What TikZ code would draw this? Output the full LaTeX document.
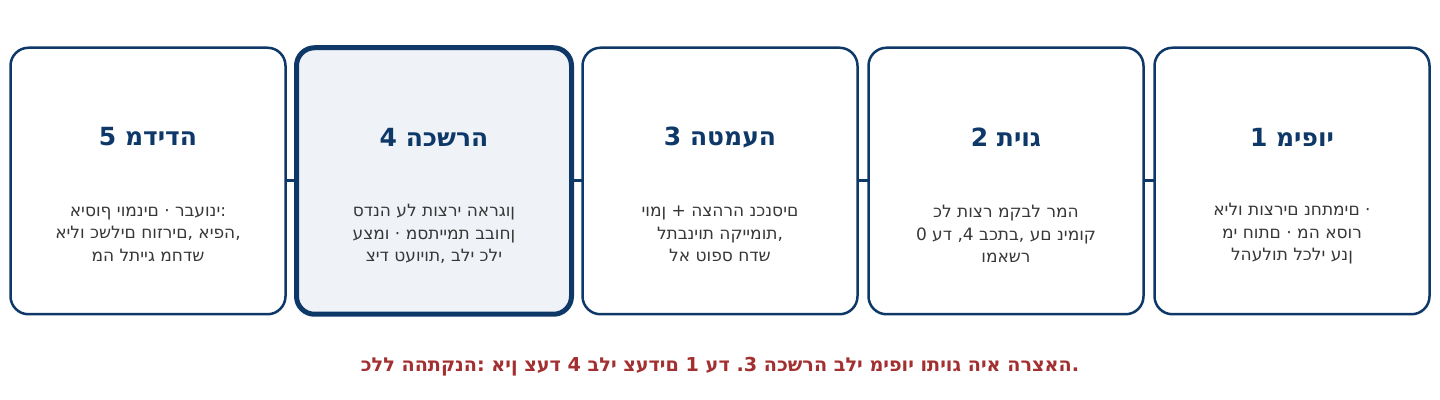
\documentclass[tikz,border=0pt]{standalone}
\usepackage{fontspec}
\setmainfont{DejaVu Sans}[Script=Hebrew]
\usepackage{tikz}
\usetikzlibrary{positioning}
\definecolor{mynavy}{RGB}{14,56,104}
\definecolor{mypale}{RGB}{239,243,248}
\definecolor{mygrey}{RGB}{55,55,55}
\definecolor{myred}{RGB}{163,48,48}
\frenchspacing
% letters one by one, left to right, as the picture sets them
\XeTeXinterchartokenstate=1
\newXeTeXintercharclass\hebcls
\makeatletter
\count@="05D0
\loop\ifnum\count@<"05EB
  \XeTeXcharclass\count@=\hebcls
  \advance\count@ by 1
\repeat
\makeatother
\XeTeXinterchartoks\hebcls\hebcls={\kern0pt\relax}
\XeTeXinterchartoks\hebcls 0={\kern0pt\relax}
\XeTeXinterchartoks 0\hebcls={\kern0pt\relax}
\tikzset{
  stagepic/.style={
    x=0.5pt,y=-0.5pt
    ,node distance=5.5pt
    ,inner sep=0pt
    ,outer sep=0pt
  }
  ,stagebox/.style={rounded corners=9pt,draw=mynavy,line width=1.25pt,fill=white
    ,minimum width=137.5pt,minimum height=133.25pt}
  ,stagecur/.style={stagebox,line width=2.5pt,fill=mypale}
  ,stagetitle/.style={font=\bfseries\fontsize{12.5}{15}\selectfont,text=mynavy}
  ,stagetext/.style={font=\fontsize{8.5}{11.25}\selectfont,text=mygrey,align=center}
  ,link/.style={draw=mynavy,line width=1.5pt}
  ,rulenote/.style={font=\bfseries\fontsize{9.6}{11}\selectfont,text=myred}
}

\begin{document}
\begin{tikzpicture}[stagepic]
  \useasboundingbox (0,0) rectangle (1440,400);
  % stages, right to left
  \node[stagebox] (s1) at (1292,181) {};
  \node[stagebox,left=of s1] (s2) {};
  \node[stagebox,left=of s2] (s3) {};
  \node[stagecur,left=of s3] (s4) {};
  \node[stagebox,left=of s4] (s5) {};
  \draw[link] (s1.west) -- (s2.east);
  \draw[link] (s2.west) -- (s3.east);
  \draw[link] (s3.west) -- (s4.east);
  \draw[link] (s4.west) -- (s5.east);
  % titles
  \node[stagetitle] (s1t) at ([yshift=22pt]s1.center) {1 מיפוי};
  \node[stagetitle] (s2t) at ([yshift=22pt]s2.center) {2 תיוג};
  \node[stagetitle] (s3t) at ([yshift=22pt]s3.center) {3 הטמעה};
  \node[stagetitle] (s4t) at ([yshift=22pt]s4.center) {4 הכשרה};
  \node[stagetitle] (s5t) at ([yshift=22pt]s5.center) {5 מדידה};
  % texts
  \node[stagetext] (s1d) at ([yshift=-26.5pt]s1.center)
    {אילו תוצרים נחתמים ·\\ מי חותם · מה אסור\\ להעלות לכלי ענן};
  \node[stagetext] (s2d) at ([yshift=-26.5pt]s2.center)
    {כל תוצר מקבל רמה\\ 0 עד 4, בכתב, עם נימוק\\ ומאשר};
  \node[stagetext] (s3d) at ([yshift=-26.5pt]s3.center)
    {יומן + הצהרה נכנסים\\ לתבניות הקיימות,\\ לא טופס חדש};
  \node[stagetext] (s4d) at ([yshift=-26.5pt]s4.center)
    {סדנה על תוצרי הארגון\\ עצמו · מסתיימת בבוחן\\ ציד טעויות, בלי כלי};
  \node[stagetext] (s5d) at ([yshift=-26.5pt]s5.center)
    {איסוף יומנים · רבעוני:\\ אילו כשלים חוזרים, איפה,\\ מה לתייג מחדש};
  % rule below
  \node[rulenote] (note) at (720,367)
    {כלל ההתקנה: אין צעד 4 בלי צעדים 1 עד 3. הכשרה בלי מיפוי ותיוג היא הרצאה.};
\end{tikzpicture}
\end{document}
